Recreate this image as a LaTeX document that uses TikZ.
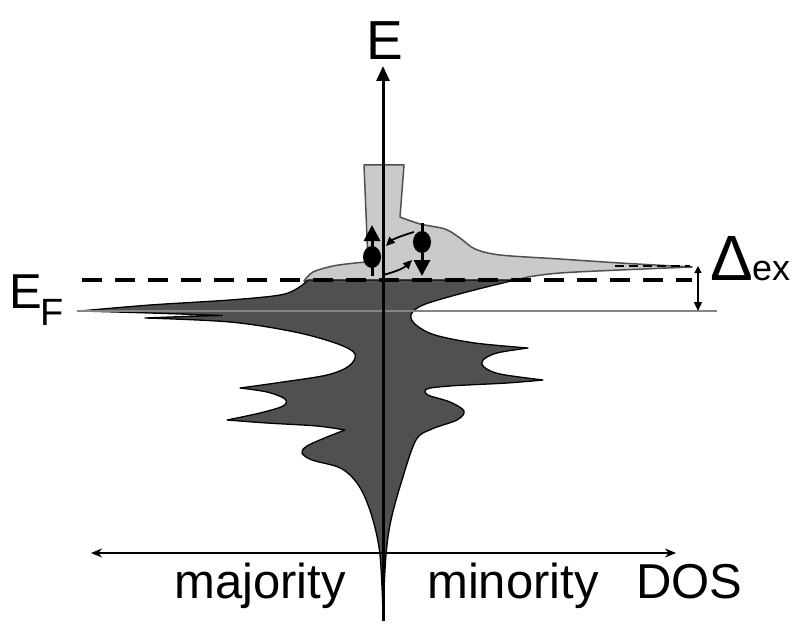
\documentclass[tikz,border=0pt]{standalone}
\usepackage{fontspec}
\setmainfont{Liberation Sans}
\usetikzlibrary{arrows.meta}
\definecolor{dosdark}{HTML}{505050}
\definecolor{doslight}{HTML}{CACACA}
\definecolor{efgray}{HTML}{858585}
\tikzset{
  darkband/.style={fill=dosdark,draw=black,line width=1.3pt,line join=round},
  lightband/.style={fill=doslight,draw=dosdark,line width=1.5pt,line join=round},
  lbl/.style={inner sep=0pt,anchor=base west},
  spinstem/.style={line width=3pt},
  spinball/.style={fill=black,draw=none},
  hop/.style={line width=1.8pt,-{Triangle[length=9pt,width=8pt]}},
}
\newcommand{\fs}[1]{\fontsize{#1}{#1}\selectfont}
\begin{document}
\begin{tikzpicture}[x=1pt,y=-1pt]
\useasboundingbox (0,0) rectangle (793,623);
\fill[white] (0,0) rectangle (793,623);

% minority states above the Fermi level (light)
\path[lightband] plot[smooth] coordinates {(304,281) (313,272) (333,266) (355,263) (368,262)}
  -- (364,165) -- (404,165) -- (400,217)
  -- plot[smooth] coordinates {(400,217) (420,224) (445,229) (460,238) (475,249) (500,255) (560,259) (620,263) (692,267)}
  -- plot[smooth] coordinates {(692,267) (620,270) (560,273) (528,277) (515,281)}
  -- cycle;

% occupied states (dark)
\path[darkband] plot[smooth,tension=0.55] coordinates {(80,311) (150,305) (230,300) (280,295) (298,288) (308,280)}
  -- (515,280)
  -- plot[smooth,tension=0.55] coordinates {(515,280) (463,293) (423,305) (411,315) (416,325) (435,335) (475,343) (528,348)}
  -- plot[smooth,tension=0.55] coordinates {(528,348) (497,353) (483,360) (484,367) (500,374) (543,380)}
  -- plot[smooth,tension=0.55] coordinates {(543,380) (507,383) (450,386) (427,389) (428,395) (450,402) (464,411) (457,420) (432,429) (416,440) (402,480) (391,520) (386,555) (383,612)}
  -- plot[smooth,tension=0.55] coordinates {(383,612) (380,555) (373,520) (363,493) (352,477) (338,467) (312,460) (302,453) (307,446) (327,437) (345,430)}
  -- plot[smooth,tension=0.55] coordinates {(345,430) (317,426) (267,423) (227,420)}
  -- plot[smooth,tension=0.55] coordinates {(227,420) (260,413) (283,406) (285,399) (267,392) (240,388)}
  -- plot[smooth,tension=0.55] coordinates {(240,388) (283,382) (327,375) (349,366) (355,354) (338,344) (295,332) (230,322) (145,318)}
  -- plot[smooth,tension=0.55] coordinates {(145,318) (185,316.5) (222,315.5)}
  -- plot[smooth,tension=0.55] coordinates {(222,315.5) (150,313) (80,311)}
  -- cycle;

% Fermi level (solid) and shifted level (dashed)
\coordinate (efL) at (77,311);
\coordinate (efR) at (717,311);
\draw[efgray,line width=2pt] (efL) -- (efR);
\coordinate (dL) at (82,280);
\coordinate (dR) at (692,280);
\draw[black,line width=4pt,dash pattern=on 20pt off 13pt] (dL) -- (dR);
\coordinate (uL) at (615,266);
\coordinate (uR) at (690,266);
\draw[black,line width=2.5pt,dash pattern=on 9pt off 5pt] (uL) -- (uR);

% exchange splitting arrow
\coordinate (xT) at (698,266);
\coordinate (xB) at (698,311);
\draw[line width=1.3pt,{Triangle[length=7pt,width=7pt]}-{Triangle[length=9pt,width=8pt]}] (xT) -- (xB);

% energy axis
\coordinate (ebot) at (383,621);
\coordinate (etop) at (383,66);
\draw[line width=3pt,-{Triangle[length=15pt,width=13pt]}] (ebot) -- (etop);

% DOS axis
\coordinate (dosL) at (91,553);
\coordinate (dosR) at (676,553);
\draw[line width=2pt,{Stealth[length=11pt,width=9pt]}-{Stealth[length=11pt,width=9pt]}] (dosL) -- (dosR);

% spins
\coordinate (upb) at (372,276);
\coordinate (upt) at (372,225);
\draw[spinstem,-{Triangle[length=16pt,width=16pt]}] (upb) -- (upt);
\fill[spinball] (372,257) ellipse [x radius=9pt, y radius=11pt];
\coordinate (dnt) at (422,223);
\coordinate (dnb) at (422,276);
\draw[spinstem,-{Triangle[length=16pt,width=16pt]}] (dnt) -- (dnb);
\fill[spinball] (422,242) ellipse [x radius=9pt, y radius=11pt];

% transitions
\coordinate (h1s) at (414,232);
\coordinate (h1e) at (386,246);
\draw[hop] (h1s) .. controls (400,236) and (392,240) .. (h1e);
\coordinate (h2s) at (383,275);
\coordinate (h2e) at (412,260);
\draw[hop] (h2s) .. controls (395,272) and (404,268) .. (h2e);

% labels
\node[lbl] (lE) at (366,60) {\fs{55}E};
\node[lbl] (lEF) at (9,308) {\fs{49}E};
\node[lbl] (lF) at (40,325) {\fs{38}F};
\node[lbl] (lDelta) at (710,280) {\fs{64}Δ};
\node[lbl] (lex) at (752,280) {\fs{36}ex};
\node[lbl] (lmaj) at (174,598) {\fs{49}majority};
\node[lbl] (lmin) at (427,598) {\fs{49}minority};
\node[lbl] (ldos) at (636,598) {\fs{49}DOS};
\end{tikzpicture}
\end{document}
